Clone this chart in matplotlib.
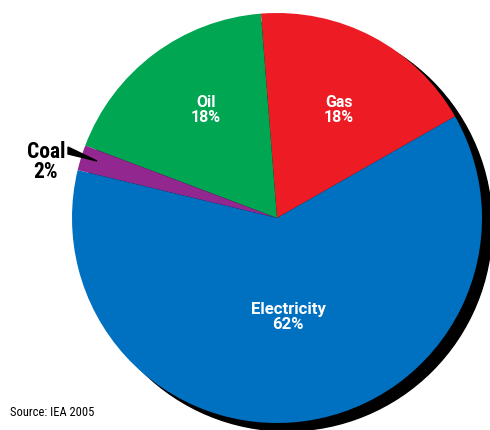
import matplotlib
matplotlib.use("Agg")
import matplotlib.pyplot as plt
from matplotlib.patches import Circle, Polygon

# Energy use shares (%)
categories = ["Gas", "Oil", "Coal", "Electricity"]
shares = [18, 18, 2, 62]
colors = ["#ED1C24", "#00A651", "#92278F", "#0070C0"]

W, H = 490, 431
plt.rcParams['font.family'] = ['Roboto Condensed', 'DejaVu Sans']

fig = plt.figure(figsize=(W / 100, H / 100), dpi=100)
ax = fig.add_axes([0, 0, 1, 1])

cx, cy, r = 277, H - 219, 205

# drop shadow behind the pie
ax.add_patch(Circle((cx + 10, cy - 8), r, color='black', zorder=0))

ax.pie(shares, colors=colors, startangle=29.7, counterclock=True,
       center=(cx, cy), radius=r, frame=True,
       wedgeprops=dict(linewidth=0))
ax.set_xlim(0, W)
ax.set_ylim(0, H)
ax.set_aspect('equal')
ax.axis('off')

# in-slice labels
label_pos = {"Gas": (339, 110), "Oil": (206, 110), "Electricity": (288, 317)}
label_size = {"Gas": 11.5, "Oil": 11.5, "Electricity": 12}
for name, val in zip(categories, shares):
    if name in label_pos:
        x, y = label_pos[name]
        ax.text(x, H - y, f"{name}\n{val}%", color='white',
                fontsize=label_size[name], family=['Roboto', 'DejaVu Sans'],
                fontweight='bold', ha='center', va='center', linespacing=1.05,
                zorder=5)

# outside label for the small slice, with a wedge pointer
coal_val = shares[categories.index("Coal")]
ax.text(46, H - 162, f"Coal\n{coal_val}%", color='black', fontsize=15.5,
        fontweight='bold', ha='center', va='center', linespacing=0.92, zorder=5)
ax.add_patch(Polygon([(68, H - 148), (68, H - 155), (97, H - 162)],
                     closed=True, color='black', zorder=6))

ax.text(10, H - 413, "Source: IEA 2005", color='black', fontsize=9,
        ha='left', va='center', zorder=5)

fig.savefig("out.png", dpi=100)
